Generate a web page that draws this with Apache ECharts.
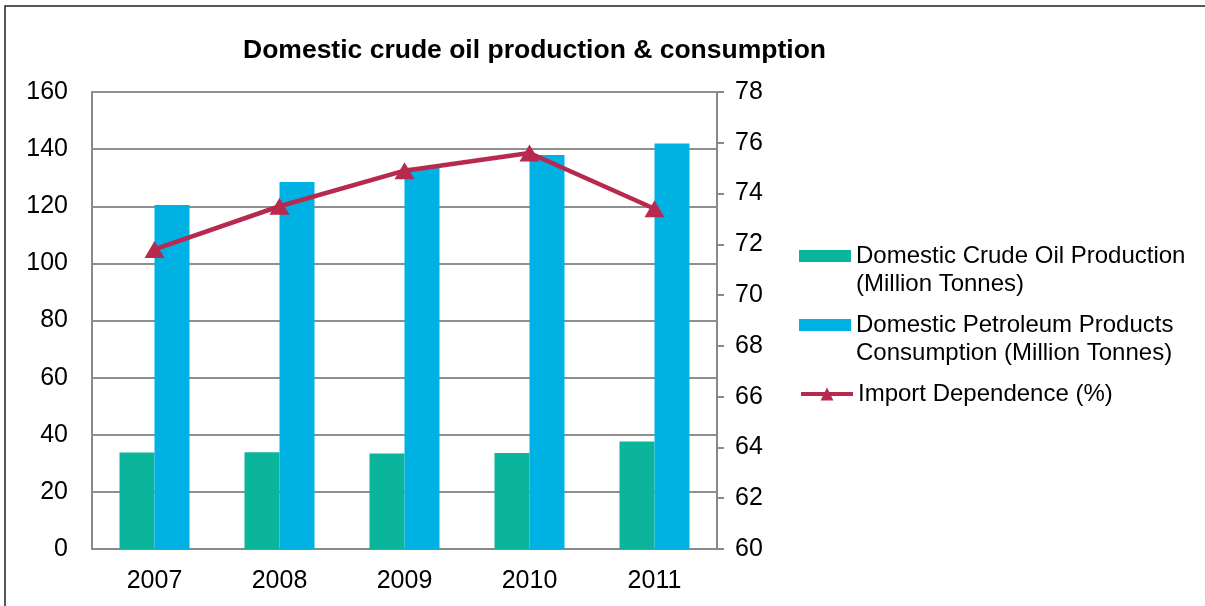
<!DOCTYPE html>
<html>
<head>
<meta charset="utf-8">
<script src="https://cdn.jsdelivr.net/npm/echarts@6/dist/echarts.min.js"></script>
<style>
  html, body { margin: 0; padding: 0; background: #fff; }
  #main { width: 1205px; height: 606px; }
</style>
</head>
<body>
<div id="main"></div>
<script>
const years = ["2007", "2008", "2009", "2010", "2011"];
const production = [33.8, 33.9, 33.4, 33.6, 37.6];
const consumption = [120.4, 128.5, 133.5, 137.9, 142.0];
const importDependence = [71.8, 73.5, 74.9, 75.6, 73.4];

const nameProd = "Domestic Crude Oil Production\n(Million Tonnes)";
const nameCons = "Domestic Petroleum Products\nConsumption (Million Tonnes)";
const nameImp = "Import Dependence (%)";

const font = "Liberation Sans, Arial, sans-serif";
const axisGray = "#898989";
const lineColor = "#B8294E";

const chart = echarts.init(document.getElementById("main"));

const legendText = { fontFamily: font, fontSize: 24, color: "#000", lineHeight: 28 };
// two-line entries: blank line first so the icon sits level with the first line
const firstLine = name => "\n" + name;

chart.setOption({
  animation: false,
  title: {
    text: "Domestic crude oil production & consumption",
    left: 238,
    top: 32,
    textStyle: { fontFamily: font, fontSize: 26.5, fontWeight: "bold", color: "#000" },
  },
  graphic: [
    {
      type: "rect",
      shape: { x: 5, y: 6, width: 1300, height: 700 },
      style: { fill: "none", stroke: "#222", lineWidth: 1.5 },
      silent: true,
    },
  ],
  legend: [
    {
      left: 799, top: 214, padding: 0, itemWidth: 52, itemHeight: 12, itemGap: 4, icon: "rect",
      data: [nameProd], formatter: firstLine, textStyle: legendText,
    },
    {
      left: 799, top: 283, padding: 0, itemWidth: 52, itemHeight: 12, icon: "rect",
      data: [nameCons], formatter: firstLine, textStyle: legendText,
    },
    {
      left: 799, top: 380, padding: 0, itemWidth: 52, itemHeight: 16,
      data: [nameImp], textStyle: legendText,
      lineStyle: { width: 4 },
    },
  ],
  grid: { left: 92, right: 488, top: 92, bottom: 57 },
  xAxis: {
    type: "category",
    data: years,
    axisLine: { lineStyle: { color: axisGray, width: 2 } },
    axisTick: { show: false },
    axisLabel: { fontFamily: font, fontSize: 25, color: "#000", margin: 20 },
  },
  yAxis: [
    {
      type: "value",
      min: 0,
      max: 160,
      interval: 20,
      axisLine: { show: true, lineStyle: { color: axisGray, width: 2 } },
      axisTick: { show: false },
      splitLine: { lineStyle: { color: "#8f8f8f", width: 2 } },
      axisLabel: { fontFamily: font, fontSize: 25, color: "#000", margin: 24 },
    },
    {
      type: "value",
      position: "right",
      min: 60,
      max: 78,
      interval: 2,
      axisLine: { show: true, lineStyle: { color: axisGray, width: 2 } },
      axisTick: { show: true, length: 7, lineStyle: { color: axisGray, width: 2 } },
      splitLine: { show: false },
      axisLabel: { fontFamily: font, fontSize: 25, color: "#000", margin: 18 },
    },
  ],
  series: [
    {
      name: nameProd,
      type: "bar",
      data: production,
      barGap: "0%",
      barCategoryGap: "44%",
      itemStyle: { color: "#0BB59B" },
    },
    {
      name: nameCons,
      type: "bar",
      data: consumption,
      itemStyle: { color: "#00B2E3" },
    },
    {
      name: nameImp,
      type: "line",
      yAxisIndex: 1,
      data: importDependence,
      symbol: "triangle",
      symbolSize: [20, 17],
      lineStyle: { color: lineColor, width: 4.5 },
      itemStyle: { color: lineColor },
      z: 5,
    },
  ],
});
</script>
</body>
</html>
